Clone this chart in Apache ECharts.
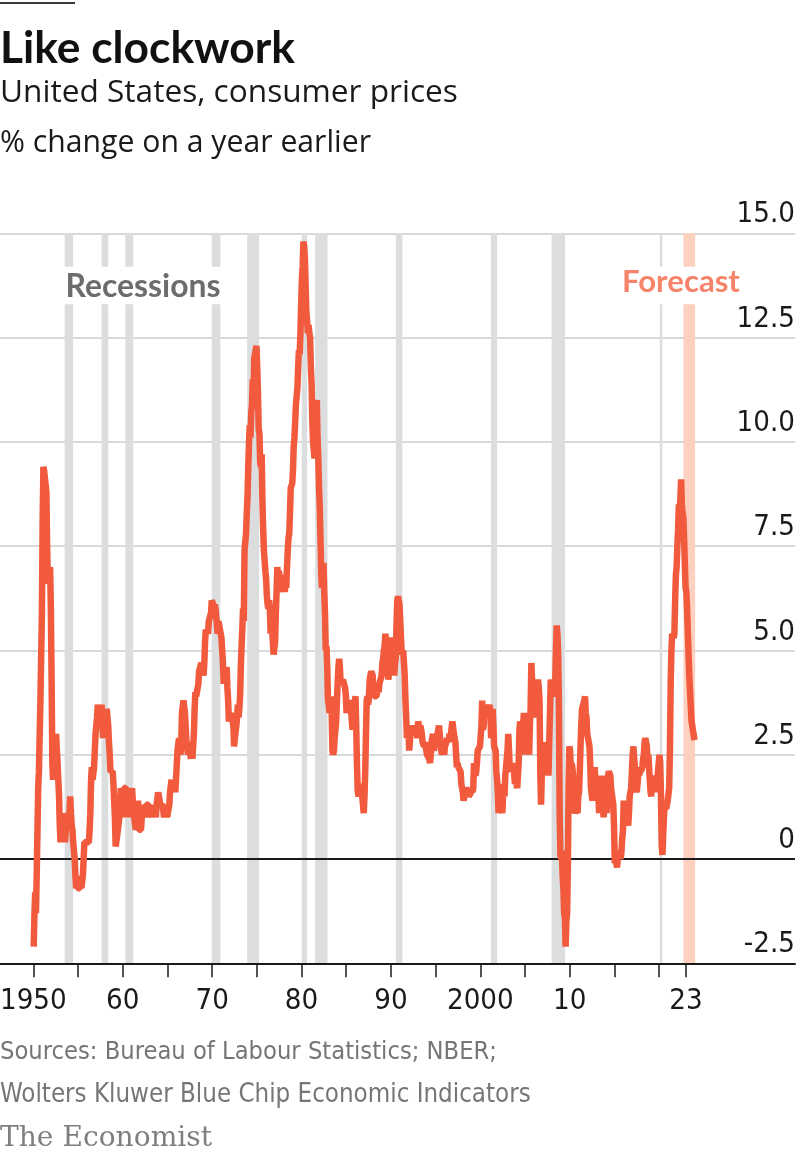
<!DOCTYPE html>
<html>
<head>
<meta charset="utf-8">
<script src="https://cdn.jsdelivr.net/npm/echarts@6/dist/echarts.min.js"></script>
<style>
html,body{margin:0;padding:0;background:#fff;}
#chart{width:800px;height:1159px;}
</style>
</head>
<body>
<div id="chart"></div>
<script>
// ---------- DATA ----------
const startYear = 1950;
// US CPI, % change on a year earlier, monthly (Jan..Dec per row)
const cpiMonthly = [
  -2.1,-1.3,-0.8,-1.3,-0.4,-0.4, 1.7, 2.1, 2.1, 3.8, 3.8, 5.9, // 1950
   8.1, 9.4, 9.3, 9.3, 9.3, 8.8, 7.5, 6.6, 6.6, 6.6, 7.0, 6.0, // 1951
   4.3, 2.3, 1.9, 2.3, 1.9, 2.3, 3.0, 3.0, 2.3, 1.9, 1.5, 0.8, // 1952
   0.4, 0.8, 1.1, 0.8, 1.1, 1.1, 0.4, 0.7, 0.7, 1.1, 0.7, 0.7, // 1953
   1.1, 1.5, 1.1, 0.8, 0.7, 0.4, 0.4, 0.0,-0.4,-0.7,-0.4,-0.7, // 1954
  -0.7,-0.7,-0.7,-0.4,-0.7,-0.7,-0.4,-0.4, 0.4, 0.4, 0.4, 0.4, // 1955
   0.4, 0.4, 0.4, 0.7, 1.1, 1.9, 2.2, 1.9, 1.9, 2.2, 2.2, 3.0, // 1956
   3.0, 3.4, 3.7, 3.7, 3.7, 3.3, 3.3, 3.7, 3.3, 2.9, 3.3, 2.9, // 1957
   3.6, 3.2, 3.6, 3.6, 3.2, 2.8, 2.5, 2.1, 2.1, 2.1, 2.1, 1.8, // 1958
   1.4, 1.0, 0.3, 0.3, 0.3, 0.7, 0.7, 1.0, 1.4, 1.7, 1.4, 1.7, // 1959
   1.0, 1.7, 1.7, 1.7, 1.7, 1.7, 1.4, 1.4, 1.0, 1.4, 1.4, 1.4, // 1960
   1.7, 1.4, 1.4, 1.0, 1.0, 0.7, 1.4, 1.0, 1.4, 0.7, 0.7, 0.7, // 1961
   0.7, 1.0, 1.0, 1.3, 1.3, 1.3, 1.0, 1.3, 1.3, 1.3, 1.3, 1.3, // 1962
   1.3, 1.0, 1.3, 1.0, 1.0, 1.3, 1.3, 1.3, 1.0, 1.3, 1.3, 1.6, // 1963
   1.6, 1.6, 1.3, 1.3, 1.3, 1.3, 1.3, 1.0, 1.3, 1.0, 1.3, 1.0, // 1964
   1.0, 1.0, 1.3, 1.6, 1.6, 1.9, 1.6, 1.9, 1.6, 1.9, 1.6, 1.9, // 1965
   1.9, 2.6, 2.6, 2.9, 2.9, 2.5, 2.8, 3.5, 3.5, 3.8, 3.8, 3.5, // 1966
   3.5, 2.8, 2.8, 2.5, 2.8, 2.8, 2.8, 2.4, 2.8, 2.4, 2.7, 3.0, // 1967
   3.6, 4.0, 3.9, 3.9, 3.9, 4.2, 4.5, 4.5, 4.5, 4.7, 4.7, 4.7, // 1968
   4.4, 4.7, 5.2, 5.5, 5.5, 5.5, 5.4, 5.7, 5.7, 5.7, 5.9, 6.2, // 1969
   6.2, 6.1, 5.8, 6.1, 6.0, 6.0, 6.0, 5.4, 5.7, 5.6, 5.6, 5.6, // 1970
   5.3, 5.0, 4.7, 4.2, 4.4, 4.6, 4.4, 4.6, 4.1, 3.8, 3.3, 3.3, // 1971
   3.3, 3.5, 3.5, 3.5, 3.2, 2.7, 2.9, 2.9, 3.2, 3.4, 3.7, 3.4, // 1972
   3.6, 3.9, 4.6, 5.1, 5.5, 6.0, 5.7, 7.4, 7.4, 7.8, 8.3, 8.7, // 1973
   9.4,10.0,10.4,10.1,10.7,10.9,11.5,10.9,12.0,12.1,12.2,12.3, // 1974
  11.8,11.2,10.3,10.2, 9.5, 9.4, 9.7, 8.6, 7.9, 7.4, 7.4, 6.9, // 1975
   6.7, 6.3, 6.1, 6.0, 6.2, 6.0, 5.4, 5.7, 5.5, 5.5, 4.9, 4.9, // 1976
   5.2, 5.9, 6.4, 7.0, 6.7, 6.9, 6.8, 6.6, 6.6, 6.4, 6.7, 6.7, // 1977
   6.8, 6.4, 6.6, 6.5, 7.0, 7.4, 7.7, 7.8, 8.3, 8.9, 8.9, 9.0, // 1978
   9.3, 9.9,10.1,10.5,10.9,10.9,11.3,11.8,12.2,12.1,12.6,13.3, // 1979
  13.9,14.2,14.8,14.7,14.4,14.4,13.1,12.9,12.6,12.8,12.6,12.5, // 1980
  11.8,11.4,10.5,10.0, 9.8, 9.6,10.8,10.8,11.0,10.1, 9.6, 8.9, // 1981
   8.4, 7.6, 6.8, 6.5, 6.7, 7.1, 6.4, 5.9, 5.0, 5.1, 4.6, 3.8, // 1982
   3.7, 3.5, 3.6, 3.9, 3.5, 2.6, 2.5, 2.6, 2.9, 2.9, 3.3, 3.8, // 1983
   4.2, 4.6, 4.8, 4.6, 4.2, 4.2, 4.2, 4.3, 4.3, 4.3, 4.1, 3.9, // 1984
   3.5, 3.5, 3.7, 3.7, 3.8, 3.8, 3.6, 3.3, 3.1, 3.2, 3.5, 3.8, // 1985
   3.9, 3.1, 2.2, 1.6, 1.5, 1.8, 1.6, 1.6, 1.8, 1.5, 1.3, 1.1, // 1986
   1.5, 2.1, 3.0, 3.8, 3.9, 3.7, 3.9, 4.3, 4.4, 4.5, 4.5, 4.4, // 1987
   4.0, 3.9, 3.9, 3.9, 3.9, 4.0, 4.1, 4.0, 4.2, 4.2, 4.2, 4.4, // 1988
   4.7, 4.8, 5.0, 5.1, 5.4, 5.2, 5.0, 4.7, 4.3, 4.5, 4.7, 4.6, // 1989
   5.2, 5.3, 5.2, 4.7, 4.4, 4.7, 4.8, 5.6, 6.2, 6.3, 6.3, 6.1, // 1990
   5.7, 5.3, 4.9, 4.9, 5.0, 4.7, 4.4, 3.8, 3.4, 2.9, 3.0, 3.1, // 1991
   2.6, 2.8, 3.2, 3.2, 3.0, 3.1, 3.2, 3.1, 3.0, 3.2, 3.0, 2.9, // 1992
   3.3, 3.2, 3.1, 3.2, 3.2, 3.0, 2.8, 2.8, 2.7, 2.8, 2.7, 2.7, // 1993
   2.5, 2.5, 2.5, 2.4, 2.3, 2.5, 2.8, 2.9, 3.0, 2.6, 2.7, 2.7, // 1994
   2.8, 2.9, 2.9, 3.1, 3.2, 3.0, 2.8, 2.6, 2.5, 2.8, 2.6, 2.5, // 1995
   2.7, 2.7, 2.8, 2.9, 2.9, 2.8, 3.0, 2.9, 3.0, 3.0, 3.3, 3.3, // 1996
   3.0, 3.0, 2.8, 2.5, 2.2, 2.3, 2.2, 2.2, 2.2, 2.1, 1.8, 1.7, // 1997
   1.6, 1.4, 1.4, 1.4, 1.7, 1.7, 1.7, 1.6, 1.5, 1.5, 1.5, 1.6, // 1998
   1.7, 1.6, 1.7, 2.3, 2.1, 2.0, 2.1, 2.3, 2.6, 2.6, 2.6, 2.7, // 1999
   2.7, 3.2, 3.8, 3.1, 3.2, 3.7, 3.7, 3.4, 3.5, 3.4, 3.4, 3.4, // 2000
   3.7, 3.5, 2.9, 3.3, 3.6, 3.2, 2.7, 2.7, 2.6, 2.1, 1.9, 1.6, // 2001
   1.1, 1.1, 1.5, 1.6, 1.2, 1.1, 1.5, 1.8, 1.5, 2.0, 2.2, 2.4, // 2002
   2.6, 3.0, 3.0, 2.2, 2.1, 2.1, 2.1, 2.2, 2.3, 2.0, 1.8, 1.9, // 2003
   1.9, 1.7, 1.7, 2.3, 3.1, 3.3, 3.0, 2.7, 2.5, 3.2, 3.5, 3.3, // 2004
   3.0, 3.0, 3.1, 3.5, 2.8, 2.5, 3.2, 3.6, 4.7, 4.3, 3.5, 3.4, // 2005
   4.0, 3.6, 3.4, 3.5, 4.2, 4.3, 4.1, 3.8, 2.1, 1.3, 2.0, 2.5, // 2006
   2.1, 2.4, 2.8, 2.6, 2.7, 2.7, 2.4, 2.0, 2.8, 3.5, 4.3, 4.1, // 2007
   4.3, 4.0, 4.0, 3.9, 4.2, 5.0, 5.6, 5.4, 4.9, 3.7, 1.1, 0.1, // 2008
   0.0, 0.2,-0.4,-0.7,-1.3,-1.4,-2.1,-1.5,-1.3,-0.2, 1.8, 2.7, // 2009
   2.6, 2.1, 2.3, 2.2, 2.0, 1.1, 1.2, 1.1, 1.1, 1.2, 1.1, 1.5, // 2010
   1.6, 2.1, 2.7, 3.2, 3.6, 3.6, 3.6, 3.8, 3.9, 3.5, 3.4, 3.0, // 2011
   2.9, 2.9, 2.7, 2.3, 1.7, 1.7, 1.4, 1.7, 2.0, 2.2, 1.8, 1.7, // 2012
   1.6, 2.0, 1.5, 1.1, 1.4, 1.8, 2.0, 1.5, 1.2, 1.0, 1.2, 1.5, // 2013
   1.6, 1.1, 1.5, 2.0, 2.1, 2.1, 2.0, 1.7, 1.7, 1.7, 1.3, 0.8, // 2014
  -0.1, 0.0,-0.1,-0.2, 0.0, 0.1, 0.2, 0.2, 0.0, 0.2, 0.5, 0.7, // 2015
   1.4, 1.0, 0.9, 1.1, 1.0, 1.0, 0.8, 1.1, 1.5, 1.6, 1.7, 2.1, // 2016
   2.5, 2.7, 2.4, 2.2, 1.9, 1.6, 1.7, 1.9, 2.2, 2.0, 2.2, 2.1, // 2017
   2.1, 2.2, 2.4, 2.5, 2.8, 2.9, 2.9, 2.7, 2.3, 2.5, 2.2, 1.9, // 2018
   1.6, 1.5, 1.9, 2.0, 1.8, 1.6, 1.8, 1.7, 1.7, 1.8, 2.1, 2.3, // 2019
   2.5, 2.3, 1.5, 0.3, 0.1, 0.6, 1.0, 1.3, 1.4, 1.2, 1.2, 1.4, // 2020
   1.4, 1.7, 2.6, 4.2, 5.0, 5.4, 5.4, 5.3, 5.4, 6.2, 6.8, 7.0, // 2021
   7.5, 7.9, 8.5, 8.3, 8.6, 9.1, 8.5, 8.3, 8.2, 7.7, 7.1, 6.5, // 2022
   6.4, 6.0                                                   // 2023
];
// forecast for the rest of 2023 (month numbers of 2023)
const forecastMonths = [5, 8, 12];
const forecastValues = [4.4, 3.3, 2.85];

// NBER recessions, decimal years [start, end]
const recessions = [
  [1953.50, 1954.45], [1957.63, 1958.38], [1960.28, 1961.17], [1969.95, 1970.92],
  [1973.92, 1975.25], [1980.02, 1980.62], [1981.52, 1982.90], [1990.55, 1991.28],
  [2001.18, 2001.88], [2007.98, 2009.48], [2020.08, 2020.36]
];
const forecastPeriod = [2022.72, 2024.03];

const xTickValues = [1950,1955,1960,1965,1970,1975,1980,1985,1990,1995,2000,2005,2010,2015,2020,2023];
const xLabelValues = [1950,1960,1970,1980,1990,2000,2010,2023];
const xLabelTexts  = ['1950','60','70','80','90','2000','10','23'];
const yMin = -2.5, yMax = 15, yStep = 2.5;

// ---------- FONTS ----------
const mctx = document.createElement('canvas').getContext('2d');
function hasFont(name) {
  const s = 'abcdefghijklmnopqrstuvwxyzABCDEFGHIJ0123456789';
  for (const base of ['monospace', 'serif']) {
    mctx.font = '40px ' + base; const a = mctx.measureText(s).width;
    mctx.font = "40px '" + name + "', " + base; const b = mctx.measureText(s).width;
    if (Math.abs(a - b) > 0.5) return true;
  }
  return false;
}
function pickFont(list, fallback) {
  for (const f of list) if (hasFont(f)) return "'" + f + "'";
  return fallback;
}
function fitSize(text, weight, family, targetW) {
  mctx.font = weight + ' 100px ' + family;
  return 100 * targetW / mctx.measureText(text).width;
}
const NARROW = pickFont(['Liberation Sans Narrow', 'DejaVu Sans Condensed', 'Roboto Condensed', 'Noto Sans Condensed', 'Open Sans Condensed'], 'Roboto');
const HEAD = pickFont(['Lato'], "'Noto Sans'");
const SUB = pickFont(['Open Sans'], "'Noto Sans'");
const SERIF = pickFont(['DejaVu Serif', 'Liberation Serif'], 'serif');
const tickSize = Math.min(32, fitSize('2000', 'normal', NARROW, 63) * 1.06);

function txt(text, weight, family, targetW, x, y, fill, z) {
  const size = fitSize(text, weight, family, targetW);
  return {type: 'text', z: z || 10, x: x, y: y,
    style: {text: text, font: weight + ' ' + size.toFixed(2) + 'px ' + family, fill: fill, verticalAlign: 'middle'}};
}

// ---------- BUILD ----------
const cpiPoints = cpiMonthly.map((v, i) => [startYear + (i + 0.5) / 12, v]);
forecastMonths.forEach((m, i) => cpiPoints.push([2023 + (m - 0.5) / 12, forecastValues[i]]));

const chart = echarts.init(document.getElementById('chart'), null, {renderer: 'canvas'});
const option = {
  animation: false,
  backgroundColor: '#ffffff',
  grid: {left: 0, right: 5, top: 233.3, bottom: 195.7, containLabel: false, outerBoundsMode: 'none'},
  xAxis: {
    type: 'value', min: 1946.27, max: 2035.2, z: 4,
    axisLine: {onZero: false, lineStyle: {color: '#1a1a1a', width: 2}},
    axisTick: {customValues: xTickValues, length: 14, lineStyle: {color: '#1a1a1a', width: 1.5}},
    axisLabel: {
      customValues: xLabelValues,
      formatter: v => { const i = xLabelValues.indexOf(Math.round(v)); return i >= 0 ? xLabelTexts[i] : ''; },
      fontFamily: NARROW, fontSize: tickSize, color: '#1a1a1a', margin: 24
    },
    splitLine: {show: false}
  },
  yAxis: {
    type: 'value', position: 'right', min: yMin, max: yMax, interval: yStep,
    axisLine: {show: false}, axisTick: {show: false},
    axisLabel: {
      inside: true, margin: 0, verticalAlign: 'bottom', padding: [0, 0, 4, 0],
      formatter: v => (v === 0 ? '0' : v.toFixed(1)),
      fontFamily: NARROW, fontSize: tickSize, color: '#1a1a1a'
    },
    splitLine: {lineStyle: {color: '#cbcccd', width: 1.5}}
  },
  series: [
    {
      name: 'Recessions', type: 'line', data: [], silent: true,
      markArea: {silent: true, z: 1, itemStyle: {color: '#dcdddf'},
        data: recessions.map(r => [{xAxis: r[0]}, {xAxis: r[1]}])}
    },
    {
      name: 'Forecast', type: 'line', data: [], silent: true,
      markArea: {silent: true, z: 1, itemStyle: {color: '#fdd0c0'},
        data: [[{xAxis: forecastPeriod[0]}, {xAxis: forecastPeriod[1]}]]}
    },
    {
      name: 'Zero', type: 'line', data: [], silent: true,
      markLine: {silent: true, z: 3, symbol: ['none', 'none'], label: {show: false},
        lineStyle: {color: '#1a1a1a', width: 2, type: 'solid'},
        data: [{yAxis: 0}]}
    },
    {
      name: 'CPI', type: 'line', z: 5, data: cpiPoints, showSymbol: false, silent: true,
      lineStyle: {color: '#f15a3c', width: 6.5, join: 'bevel'}
    }
  ],
  graphic: [
    {type: 'rect', shape: {x: 0, y: 2, width: 75, height: 2}, style: {fill: '#3a3a3a'}},
    txt('Like clockwork', 'bold', HEAD, 295, 0, 49, '#111111'),
    txt('United States, consumer prices', 'normal', SUB, 458, 0, 93, '#1a1a1a'),
    txt('% change on a year earlier', 'normal', SUB, 371, 0, 143.5, '#1a1a1a'),
    {type: 'rect', z: 20, shape: {x: 62, y: 266.7, width: 160, height: 37.6}, style: {fill: '#ffffff'}},
    txt('Recessions', 'bold', HEAD, 155, 65.5, 287, '#6b6c6e', 21),
    {type: 'rect', z: 20, shape: {x: 618, y: 266.7, width: 126, height: 37.6}, style: {fill: '#ffffff'}},
    txt('Forecast', 'bold', HEAD, 118, 622, 282, '#f6846a', 21),
    txt('Sources: Bureau of Labour Statistics; NBER;', 'normal', NARROW, 497, 0, 1052, '#767676'),
    txt('Wolters Kluwer Blue Chip Economic Indicators', 'normal', NARROW, 531, 0, 1095, '#767676'),
    txt('The Economist', 'normal', SERIF, 212, 0, 1139, '#7f7f7f')
  ]
};
chart.setOption(option);
</script>
</body>
</html>
